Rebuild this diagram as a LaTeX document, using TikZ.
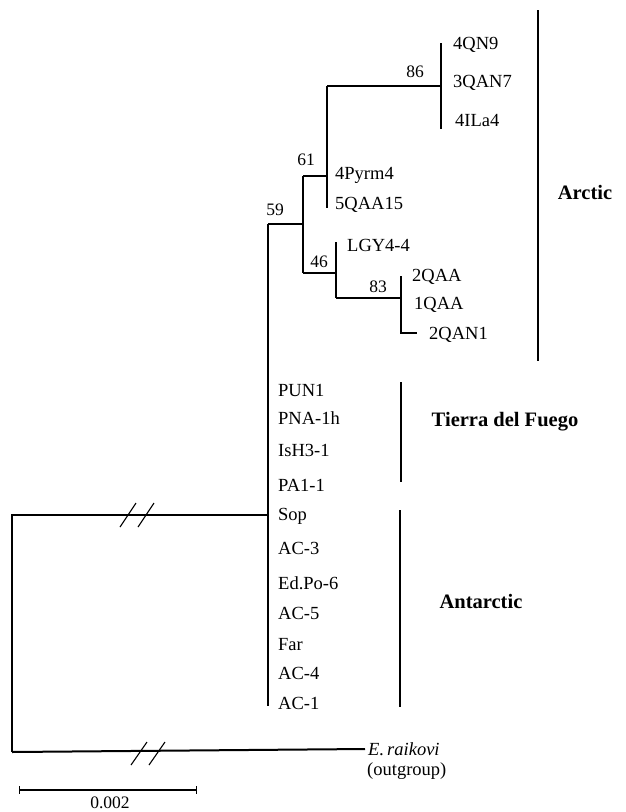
\documentclass[tikz,border=0pt]{standalone}
\usepackage{fontspec}
\setmainfont{Liberation Serif}
\usetikzlibrary{positioning,calc}

\begin{document}
\begin{tikzpicture}[x=1pt, y=-1pt, font=\fontsize{18.5}{22}\selectfont,
          branch/.style={line width=2pt},
          taxon/.style={anchor=west, inner sep=0pt},
          boot/.style={inner sep=0pt, font=\fontsize{17.5}{20}\selectfont},
          group/.style={font=\fontsize{20.5}{24}\selectfont\bfseries},
          brk/.style={line width=1.1pt}]
        \useasboundingbox (0,0) rectangle (626,812);
        % internal nodes
        \coordinate (root) at (12,515);
        \coordinate (rout) at (12,752);
        \coordinate (n59)  at (268,224);
        \coordinate (n59b) at (268,706);
        \coordinate (n5946) at (303,224);
        \coordinate (n61)  at (303,176);
        \coordinate (n46)  at (303,273);
        \coordinate (n61b) at (327,176);
        \coordinate (n61t) at (327,86);
        \coordinate (n61e) at (327,208);
        \coordinate (n86)  at (441,86);
        \coordinate (n86t) at (441,43);
        \coordinate (n86e) at (441,129);
        \coordinate (n46b) at (336,273);
        \coordinate (n46t) at (336,242);
        \coordinate (n46e) at (336,298);
        \coordinate (n83)  at (401,298);
        \coordinate (n83t) at (401,276);
        \coordinate (n83e) at (401,333);
        \coordinate (n83s) at (417,333);
        % tips
        \node[taxon] (t4QN9)  at (453,45)  {4QN9};
        \node[taxon] (t3QAN7) at (453,83)  {3QAN7};
        \node[taxon] (t4ILa4) at (455,120) {4ILa4};
        \node[taxon] (t4Pyrm4) at (335,175) {4Pyrm4};
        \node[taxon] (t5QAA15) at (335,205) {5QAA15};
        \node[taxon] (tLGY) at (347,245) {LGY4-4};
        \node[taxon] (t2QAA)  at (412,277) {2QAA};
        \node[taxon] (t1QAA)  at (414,305) {1QAA};
        \node[taxon] (t2QAN1) at (429,335) {2QAN1};
        \node[taxon] (tPUN1)  at (278,390) {PUN1};
        \node[taxon] (tPNA)   at (278,418) {PNA-1h};
        \node[taxon] (tIsH3)  at (278,450) {IsH3-1};
        \node[taxon] (tPA1)   at (278,485) {PA1-1};
        \node[taxon] (tSop)   at (278,516) {Sop};
        \node[taxon] (tAC3)   at (278,548) {AC-3};
        \node[taxon] (tEdPo)  at (278,583) {Ed.Po-6};
        \node[taxon] (tAC5)   at (278,613) {AC-5};
        \node[taxon] (tFar)   at (278,645) {Far};
        \node[taxon] (tAC4)   at (278,673) {AC-4};
        \node[taxon] (tAC1)   at (278,703) {AC-1};
        \node[taxon] (tEra)   at (368,749) {\itshape E.\,raikovi};
        \node[taxon] (tout)   at (367,771) {(outgroup)};
        % branches
        \draw[branch] (rout) -- (root) -- (root -| n59) ;
        \draw[branch] (rout) -- (tEra.west -| 365,0);
        \draw[branch] (n59) -- (n59b);
        \draw[branch] (n59) -- (n5946);
        \draw[branch] (n61) -- (n46);
        \draw[branch] (n61) -- (n61b);
        \draw[branch] (n61t) -- (n61e);
        \draw[branch] (n61t) -- (n86);
        \draw[branch] (n86t) -- (n86e);
        \draw[branch] (n46) -- (n46b);
        \draw[branch] (n46t) -- (n46e);
        \draw[branch] (n46e) -- (n83);
        \draw[branch] (n83t) -- (n83e) -- (n83s);
        % breaks
        \foreach \bx in {128,146} {
          \draw[brk] (\bx-8,527) -- (\bx+8,503);
          \draw[brk] (\bx+3,765) -- (\bx+19,742);
        }
        % bootstrap values
        \node[boot] (b86) at (415,72)  {86};
        \node[boot] (b61) at (306,160) {61};
        \node[boot] (b59) at (275,210) {59};
        \node[boot] (b46) at (319,262) {46};
        \node[boot] (b83) at (378,287) {83};
        % groups
        \coordinate (arcT) at (538,10);
        \coordinate (arcB) at (538,361);
        \coordinate (tdfT) at (401,382);
        \coordinate (tdfB) at (401,482);
        \coordinate (antT) at (400,510);
        \coordinate (antB) at (400,707);
        \draw[branch] (arcT) -- (arcB);
        \draw[branch] (tdfT) -- (tdfB);
        \draw[branch] (antT) -- (antB);
        \node[group] (arctic) at (585,192) {Arctic};
        \node[group] (tdf) at (505,422) {Tierra del Fuego};
        \node[group] (antarctic) at (481,601) {Antarctic};
        % scale
        \coordinate (sL) at (19,790);
        \coordinate (sR) at (196,790);
        \draw[line width=1.7pt] (sL) -- (sR);
        \draw[line width=1pt] ($(sL)+(0,-4)$) -- ($(sL)+(0,4)$);
        \draw[line width=1pt] ($(sR)+(0,-4)$) -- ($(sR)+(0,4)$);
        \node[boot] (slab) at (110,803) {0.002};
      \end{tikzpicture}
\end{document}
